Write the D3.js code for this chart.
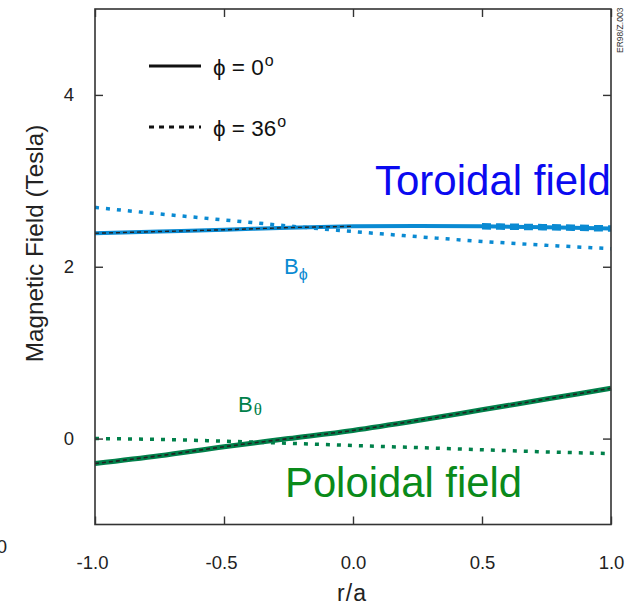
<!DOCTYPE html>
<html>
<head>
<meta charset="utf-8">
<script src="https://cdn.jsdelivr.net/npm/d3@7"></script>
<style>
  html, body { margin: 0; padding: 0; background: #fff; }
  svg { display: block; font-family: "Liberation Sans", Arial, sans-serif; }
</style>
</head>
<body>
<svg id="chart" width="634" height="606"></svg>
<script>
// Normalised minor radius r/a
const radius = [-1, -0.75, -0.5, -0.25, 0, 0.25, 0.5, 0.75, 1];

// Toroidal field B_phi (Tesla)
const bTorPhi0  = [2.39, 2.41, 2.43, 2.455, 2.47, 2.475, 2.47, 2.46, 2.445];
const bTorPhi36 = [2.69, 2.615, 2.545, 2.475, 2.41, 2.35, 2.295, 2.25, 2.21];

// Poloidal field B_theta (Tesla)
const bPolPhi0  = [-0.29, -0.20, -0.095, 0.0, 0.095, 0.21, 0.335, 0.46, 0.585];
const bPolPhi36 = [0.0, -0.01, -0.03, -0.055, -0.08, -0.105, -0.13, -0.155, -0.175];

// Axis ticks
const xTicks = [-1, -0.5, 0, 0.5, 1];
const yTicks = [0, 2, 4];

const cTor = "#0a8ad2";
const cPol = "#00804a";

const svg = d3.select("#chart");
const x = d3.scaleLinear().domain([-1, 1]).range([95, 611]);
const y = d3.scaleLinear().domain([-1, 5]).range([524.5, 9]);

const line = d3.line()
  .x(d => x(d[0]))
  .y(d => y(d[1]))
  .curve(d3.curveMonotoneX);

const pts = vals => radius.map((r, i) => [r, vals[i]]);
const inRange = (vals, lo, hi) =>
  pts(vals).filter(d => d[0] >= lo - 1e-9 && d[0] <= hi + 1e-9);

const plot = svg.append("g");

// phi = 36 deg profiles (dotted)
plot.append("path").attr("d", line(pts(bTorPhi36)))
  .attr("fill", "none").attr("stroke", cTor).attr("stroke-width", 3.5)
  .attr("stroke-dasharray", "4,7");
plot.append("path").attr("d", line(pts(bPolPhi36)))
  .attr("fill", "none").attr("stroke", cPol).attr("stroke-width", 3.5)
  .attr("stroke-dasharray", "4,7");

// phi = 0 deg profiles (solid)
plot.append("path").attr("d", line(pts(bTorPhi0)))
  .attr("fill", "none").attr("stroke", cTor).attr("stroke-width", 4);
plot.append("path").attr("d", line(pts(bPolPhi0)))
  .attr("fill", "none").attr("stroke", cPol).attr("stroke-width", 5);

// heavier dashed trace on the outer toroidal profile
plot.append("path").attr("d", line(inRange(bTorPhi0, 0.5, 1)))
  .attr("fill", "none").attr("stroke", cTor).attr("stroke-width", 6.5)
  .attr("stroke-dasharray", "9,5");

// thin black dashed fit curves
plot.append("path").attr("d", line(inRange(bTorPhi0, -1, 0)))
  .attr("fill", "none").attr("stroke", "#222").attr("stroke-width", 1.4)
  .attr("stroke-dasharray", "4,3");
plot.append("path").attr("d", line(pts(bPolPhi0)))
  .attr("fill", "none").attr("stroke", "#222").attr("stroke-width", 1.6)
  .attr("stroke-dasharray", "4,3");

// frame
svg.append("rect")
  .attr("x", x(-1)).attr("y", y(5))
  .attr("width", x(1) - x(-1)).attr("height", y(-1) - y(5))
  .attr("fill", "none").attr("stroke", "#333").attr("stroke-width", 1.6);

const fmtX = d => d.toFixed(1);

const axB = svg.append("g").attr("transform", `translate(0,${y(-1)})`)
  .call(d3.axisBottom(x).tickValues(xTicks).tickSize(-8).tickSizeOuter(0)
    .tickPadding(31).tickFormat(fmtX));
const axT = svg.append("g").attr("transform", `translate(0,${y(5)})`)
  .call(d3.axisTop(x).tickValues(xTicks).tickSize(-8).tickSizeOuter(0).tickFormat(""));
const axL = svg.append("g").attr("transform", `translate(${x(-1)},0)`)
  .call(d3.axisLeft(y).tickValues(yTicks).tickSize(-8).tickSizeOuter(0)
    .tickPadding(21).tickFormat(d => String(d)));
const axR = svg.append("g").attr("transform", `translate(${x(1)},0)`)
  .call(d3.axisRight(y).tickValues(yTicks).tickSize(-8).tickSizeOuter(0).tickFormat(""));

[axB, axT, axL, axR].forEach(a => {
  a.select(".domain").remove();
  a.selectAll(".tick line").attr("stroke", "#333").attr("stroke-width", 1.4);
  a.selectAll(".tick text").attr("fill", "#222")
    .style("font-family", "'Liberation Sans', Arial, sans-serif")
    .style("font-size", "18.5px");
});
axB.selectAll(".tick text").attr("dx", d => d < 0 ? -3 : 0);

// axis titles
svg.append("text").attr("x", 352).attr("y", 601)
  .attr("text-anchor", "middle").attr("fill", "#222")
  .style("font-size", "23px").style("letter-spacing", "1px").text("r/a");
svg.append("text")
  .attr("transform", "translate(43,243.5) rotate(-90)")
  .attr("text-anchor", "middle").attr("fill", "#222")
  .style("font-size", "24.3px").text("Magnetic Field (Tesla)");

// partial tick label at the left edge
svg.append("text").attr("x", 7).attr("y", 553).attr("text-anchor", "end")
  .attr("fill", "#222").style("font-size", "18.5px").text("0");

// reference tag
svg.append("text").attr("transform", "translate(623,53) rotate(-90)")
  .attr("fill", "#333").style("font-size", "8.5px").text("ER98/Z.003");

// legend
const legend = svg.append("g");
const legendRows = [
  { label: "\u03d5 = 0", dash: null, yPos: 66 },
  { label: "\u03d5 = 36", dash: "5,5", yPos: 127 }
];
legendRows.forEach(row => {
  legend.append("line").attr("x1", 149).attr("x2", 201)
    .attr("y1", row.yPos).attr("y2", row.yPos)
    .attr("stroke", "#111").attr("stroke-width", 3)
    .attr("stroke-dasharray", row.dash);
  const t = legend.append("text").attr("x", 213).attr("y", row.yPos + 9)
    .attr("fill", "#111").style("font-size", "22.5px");
  t.append("tspan").text(row.label);
  t.append("tspan").attr("dy", -9).attr("dx", 1).style("font-size", "16px").text("o");
});

// field labels
svg.append("text").attr("x", 375).attr("y", 195)
  .attr("fill", "#0a0af0").style("font-size", "42px").text("Toroidal field");
svg.append("text").attr("x", 285).attr("y", 497)
  .attr("fill", "#0a8a1a").style("font-size", "41.8px").text("Poloidal field");

const bPhi = svg.append("text").attr("x", 284).attr("y", 274)
  .attr("fill", cTor).style("font-size", "22px");
bPhi.append("tspan").text("B");
bPhi.append("tspan").attr("dy", 6).style("font-size", "16px").text("\u03d5");

const bTh = svg.append("text").attr("x", 238).attr("y", 412)
  .attr("fill", cPol).style("font-size", "22px");
bTh.append("tspan").text("B");
bTh.append("tspan").attr("dy", 3).attr("dx", 1)
  .style("font-family", "'Liberation Serif', 'Times New Roman', serif")
  .style("font-size", "17px").text("\u03b8");
</script>
</body>
</html>
